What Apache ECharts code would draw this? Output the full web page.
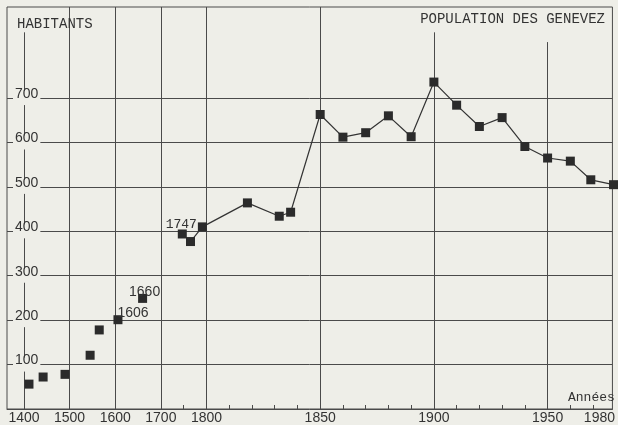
<!DOCTYPE html>
<html lang="fr">
<head>
    <meta charset="UTF-8">
    <title>Population des Genevez</title>
    <script src="https://cdn.jsdelivr.net/npm/echarts@6/dist/echarts.min.js"></script>
    <style>
        html, body {
            margin: 0;
            padding: 0;
            background: #eeeee8;
        }
    </style>
</head>
<body style="overflow: hidden">
<div id="chart" style="width: 618px;height: 425px"></div>
<script>
    // points isoles (avant la courbe)
    var earlyYears = [1411, 1442, 1490, 1545, 1565, 1606, 1660, 1747];
    var earlyPop = [56, 72, 78, 121, 178, 201, 249, 394];
    var labeledYears = [1606, 1660, 1747];

    // courbe
    var lineYears = [1765, 1791, 1818, 1832, 1837, 1850, 1860, 1870, 1880, 1890, 1900,
        1910, 1920, 1930, 1940, 1950, 1960, 1969, 1979];
    var linePop = [377, 410, 464, 434, 443, 663, 612, 622, 660, 613, 736,
        684, 636, 656, 591, 565, 558, 516, 505];

    // axes
    var xTickYears = [1400, 1500, 1600, 1700, 1800, 1850, 1900, 1950, 1980];
    var xGridYears = [1400, 1500, 1600, 1700, 1800, 1850, 1900, 1950];
    var xShortGridYears = [1400, 1900, 1950];
    var xMinorYears = [1750, 1810, 1820, 1830, 1840, 1860, 1870, 1880, 1890,
        1910, 1920, 1930, 1940, 1960, 1970];
    var yTicks = [100, 200, 300, 400, 500, 600, 700];

    var ink = '#4a4a4a';
    var paper = '#eeeee8';
    var X_MAX = 607;

    // echelle coupee : 1400-1800 serre, 1800-1980 etire
    function tx(year) {
        if (year <= 1800) return 17 + (year - 1400) * 0.4575;
        return 200 + (year - 1800) * 2.28;
    }

    var xLabelPos = xTickYears.map(function (y) { return Math.min(tx(y), X_MAX); });

    var gridLines = [];
    xGridYears.forEach(function (y) {
        if (xShortGridYears.indexOf(y) >= 0) {
            var top = y == 1950 ? 826 : 848;
            gridLines.push([{coord: [tx(y), 0]}, {coord: [tx(y), top]}]);
        } else {
            gridLines.push({xAxis: tx(y)});
        }
    });
    yTicks.forEach(function (v) {
        gridLines.push({yAxis: v});
    });

    var earlyData = earlyYears.map(function (y, i) {
        var item = {value: [tx(y), earlyPop[i]]};
        if (labeledYears.indexOf(y) >= 0) {
            var mono = y == 1747;
            var off = {1606: [15, 3], 1660: [2, 3], 1747: [-1, 0]}[y];
            item.label = {
                show: true,
                position: 'top',
                distance: -2,
                offset: off,
                formatter: String(y),
                color: '#333',
                fontFamily: mono ? 'Liberation Mono' : 'Liberation Sans',
                fontSize: mono ? 13 : 14
            };
        }
        return item;
    });

    var lineData = lineYears.map(function (y, i) {
        return [tx(y), linePop[i]];
    });

    var chart = echarts.init(document.getElementById('chart'));
    chart.setOption({
        backgroundColor: paper,
        animation: false,
        title: [
            {
                text: 'POPULATION DES GENEVEZ',
                right: 13, top: 12, padding: 0,
                textStyle: {fontFamily: 'Liberation Mono', fontSize: 14, fontWeight: 'normal', color: '#333'}
            },
            {
                text: 'HABITANTS',
                left: 17, top: 17, padding: 0,
                textStyle: {fontFamily: 'Liberation Mono', fontSize: 14, fontWeight: 'normal', color: '#333'}
            },
            {
                text: 'Années',
                left: 568, top: 391, padding: 0,
                textStyle: {fontFamily: 'Liberation Mono', fontSize: 13, fontWeight: 'normal', color: '#333'}
            }
        ],
        grid: {
            left: 7, right: 4, top: 7, bottom: 10,
            show: true,
            borderColor: ink,
            borderWidth: 1,
            backgroundColor: 'transparent'
        },
        xAxis: {
            type: 'value',
            min: 0,
            max: X_MAX,
            axisLine: {show: true, lineStyle: {color: ink, width: 1}},
            splitLine: {show: false},
            axisTick: {
                show: true, inside: true, length: 4,
                lineStyle: {color: ink},
                customValues: xMinorYears.map(tx)
            },
            axisLabel: {
                margin: 2,
                color: '#333',
                fontFamily: 'Liberation Sans',
                fontSize: 14,
                customValues: xLabelPos,
                formatter: function (value) {
                    var best = 0;
                    for (var i = 0; i < xLabelPos.length; i++) {
                        if (Math.abs(xLabelPos[i] - value) < Math.abs(xLabelPos[best] - value)) best = i;
                    }
                    var year = xTickYears[best];
                    return year == 1980 ? '{r|' + year + '}' : String(year);
                },
                rich: {
                    r: {padding: [0, 26, 0, 0], fontFamily: 'Liberation Sans', fontSize: 14, color: '#333'}
                }
            }
        },
        yAxis: {
            type: 'value',
            min: 0,
            max: 905,
            z: 10,
            axisLine: {show: false},
            axisTick: {show: false},
            splitLine: {show: false},
            axisLabel: {
                inside: true,
                margin: 6,
                customValues: yTicks,
                verticalAlign: 'middle',
                backgroundColor: paper,
                padding: [0, 2, 0, 2],
                formatter: function (value) {
                    return '{v|' + value + '}';
                },
                rich: {
                    v: {
                        color: '#333',
                        fontFamily: 'Liberation Sans',
                        fontSize: 14,
                        lineHeight: 14,
                        padding: [0, 0, 8, 0]
                    }
                }
            }
        },
        series: [
            {
                type: 'line',
                data: [],
                z: 1,
                silent: true,
                markLine: {
                    silent: true,
                    symbol: 'none',
                    label: {show: false},
                    lineStyle: {color: ink, width: 1, type: 'solid'},
                    emphasis: {disabled: true},
                    data: gridLines
                }
            },
            {
                type: 'scatter',
                data: earlyData,
                z: 5,
                symbol: 'rect',
                symbolSize: 9,
                itemStyle: {color: '#2b2b2b', opacity: 1}
            },
            {
                type: 'line',
                data: lineData,
                z: 5,
                clip: false,
                symbol: 'rect',
                symbolSize: 9,
                showSymbol: true,
                lineStyle: {color: '#333', width: 1.2},
                itemStyle: {color: '#2b2b2b', opacity: 1}
            }
        ]
    });
</script>
</body>
</html>
